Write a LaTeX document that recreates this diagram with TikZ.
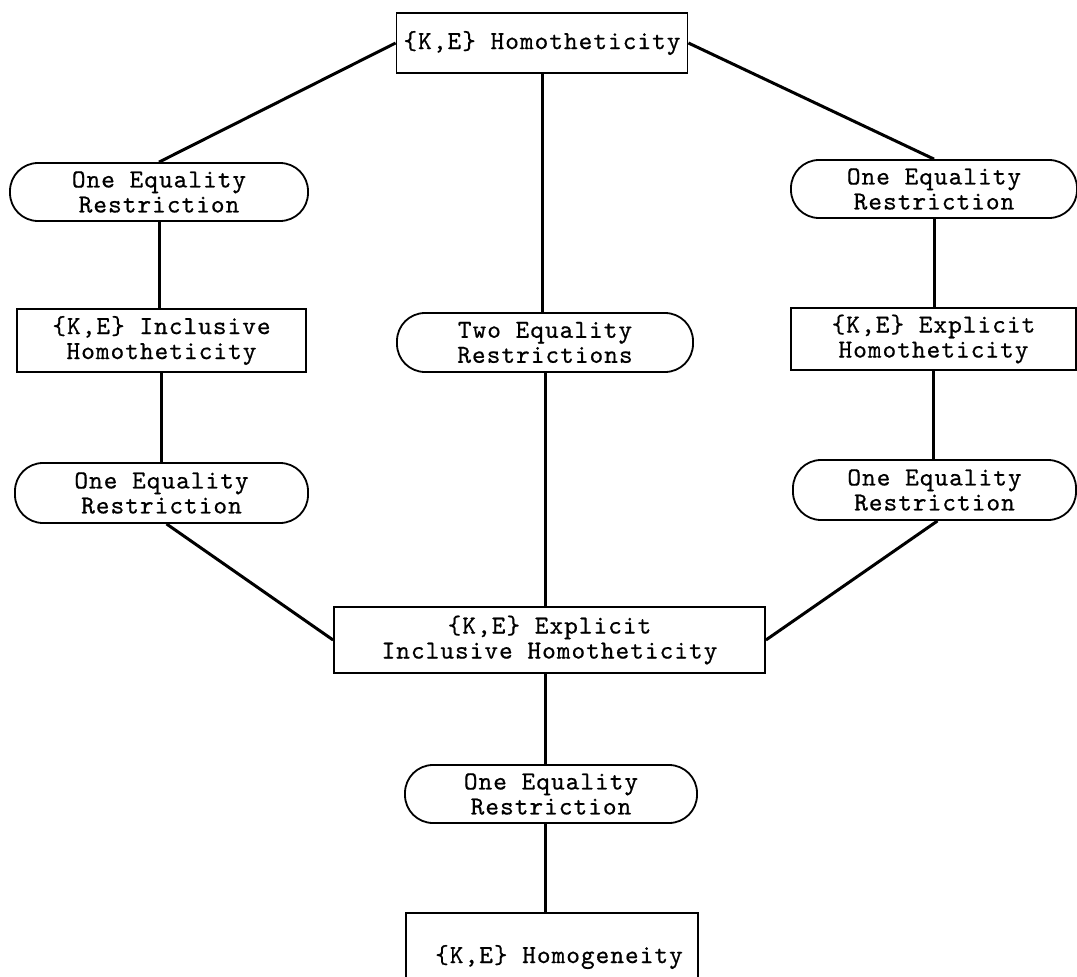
\documentclass[tikz,border=0pt]{standalone}
\usepackage{fontspec}
\newfontfamily\lbltt{lmmono10-regular.otf}[LetterSpace=4,FakeBold=0.6]
\newcommand{\lblfont}{\lbltt\fontsize{26}{25}\selectfont}
\begin{document}
\begin{tikzpicture}[x=1pt,y=-1pt,
  lbl/.style={font=\lblfont, align=center, inner sep=0pt},
  sqbox/.style={lbl, draw, line width=1.8pt, rectangle},
  rdbox/.style={lbl, draw, line width=1.8pt, rectangle, rounded corners=28pt},
  conn/.style={line width=3pt}]
\useasboundingbox (0,0) rectangle (1077,977);
\clip (0,0) rectangle (1077,977);
\node[sqbox, minimum width=291pt, minimum height=60pt] (top) at (542,43) {\{K,E\} Homotheticity};
\node[rdbox, minimum width=298pt, minimum height=58pt] (L1) at (159,192) {One Equality\\Restriction};
\node[rdbox, minimum width=286pt, minimum height=58pt] (R1) at (934,189) {One Equality\\Restriction};
\node[sqbox, minimum width=289pt, minimum height=63pt] (L2) at (161.5,340.5) {\{K,E\} Inclusive\\Homotheticity};
\node[rdbox, minimum width=296pt, minimum height=59pt] (C2) at (545,342.5) {Two Equality\\Restrictions};
\node[sqbox, minimum width=285pt, minimum height=62pt] (R2) at (933.5,339) {\{K,E\} Explicit\\Homotheticity};
\node[rdbox, minimum width=293pt, minimum height=60pt] (L3) at (161.5,493) {One Equality\\Restriction};
\node[rdbox, minimum width=283pt, minimum height=60pt] (R3) at (934.5,490) {One Equality\\Restriction};
\node[sqbox, minimum width=431pt, minimum height=66pt] (C3) at (549.5,640) {\{K,E\} Explicit\\Inclusive Homotheticity};
\node[rdbox, minimum width=292pt, minimum height=58pt] (C4) at (551,794) {One Equality\\Restriction};
\node[sqbox, minimum width=292pt, minimum height=88pt] (C5) at (552,957) {\hspace*{14pt}\{K,E\} Homogeneity};
\draw[conn] (top.west) -- (L1.north);
\draw[conn] (top.east) -- (R1.north);
\draw[conn] (top.south) -- (top.south |- C2.north);
\draw[conn] (L1.south) -- (L1.south |- L2.north);
\draw[conn] (L2.south) -- (L2.south |- L3.north);
\draw[conn] (R1.south) -- (R1.south |- R2.north);
\draw[conn] (R2.south) -- (R2.south |- R3.north);
\draw[conn] (C2.south) -- (C2.south |- C3.north);
\draw[conn] ([xshift=5pt]L3.south) -- (C3.west);
\draw[conn] ([xshift=3pt]R3.south) -- (C3.east);
\draw[conn] (C3.south -| C2.south) -- (C2.south |- C4.north);
\draw[conn] (C4.south -| C2.south) -- (C2.south |- C5.north);
\end{tikzpicture}
\end{document}
